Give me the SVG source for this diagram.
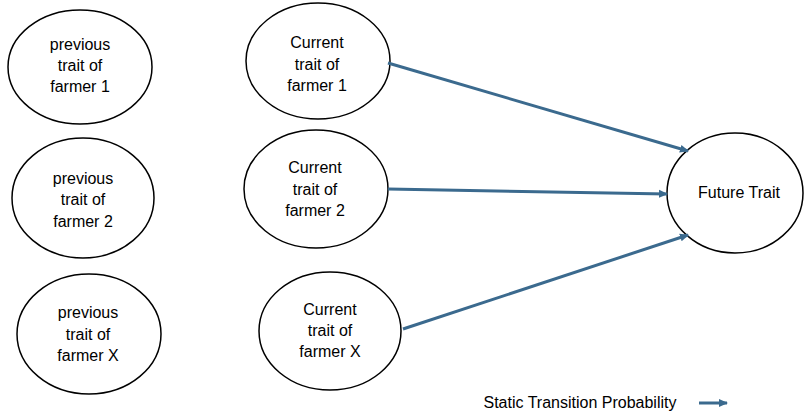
<svg xmlns="http://www.w3.org/2000/svg" width="804" height="415" viewBox="0 0 804 415">
<style>
.n{fill:#fff;stroke:#000;stroke-width:1.5}
.t{font-family:"Liberation Sans",Arial,sans-serif;font-size:16px;fill:#000;text-anchor:middle}
.c{stroke:#3b6a8e;stroke-width:3;fill:none;marker-end:url(#ah)}
</style>
<defs>
<marker id="ah" markerWidth="10" markerHeight="10" refX="8" refY="5" orient="auto" markerUnits="userSpaceOnUse">
<path d="M0,1 L9,5 L0,9 Z" fill="#3b6a8e"/>
</marker>
</defs>
<rect width="804" height="415" fill="#fff"/>
<g id="prev1"><ellipse class="n" cx="80" cy="67" rx="72" ry="57"/>
<text class="t" x="80" y="50">previous</text><text class="t" x="80" y="71">trait of</text><text class="t" x="80" y="92">farmer 1</text></g>
<g id="cur1"><ellipse class="n" cx="318" cy="61" rx="72" ry="58"/>
<text class="t" x="317" y="48">Current</text><text class="t" x="317" y="70">trait of</text><text class="t" x="317" y="91">farmer 1</text></g>
<g id="prev2"><ellipse class="n" cx="83" cy="198" rx="71" ry="60"/>
<text class="t" x="83" y="184">previous</text><text class="t" x="83" y="205">trait of</text><text class="t" x="83" y="227">farmer 2</text></g>
<g id="cur2"><ellipse class="n" cx="316" cy="189" rx="72" ry="59"/>
<text class="t" x="315" y="173">Current</text><text class="t" x="315" y="195">trait of</text><text class="t" x="315" y="216">farmer 2</text></g>
<g id="prevX"><ellipse class="n" cx="89" cy="334" rx="72" ry="60"/>
<text class="t" x="88" y="318">previous</text><text class="t" x="88" y="340">trait of</text><text class="t" x="88" y="361">farmer X</text></g>
<g id="curX"><ellipse class="n" cx="330" cy="331" rx="71" ry="59"/>
<text class="t" x="330" y="315">Current</text><text class="t" x="330" y="336">trait of</text><text class="t" x="330" y="357">farmer X</text></g>
<g id="future"><ellipse class="n" cx="735" cy="193" rx="68" ry="60"/>
<text class="t" x="739" y="198">Future Trait</text></g>
<g id="connectors">
<line class="c" x1="388" y1="63" x2="688" y2="151"/>
<line class="c" x1="388" y1="189" x2="667" y2="194"/>
<line class="c" x1="403" y1="329" x2="688" y2="235"/>
</g>
<g id="legend">
<text class="t" x="580" y="408">Static Transition Probability</text>
<line class="c" x1="699" y1="403" x2="727" y2="403"/>
</g>
</svg>
